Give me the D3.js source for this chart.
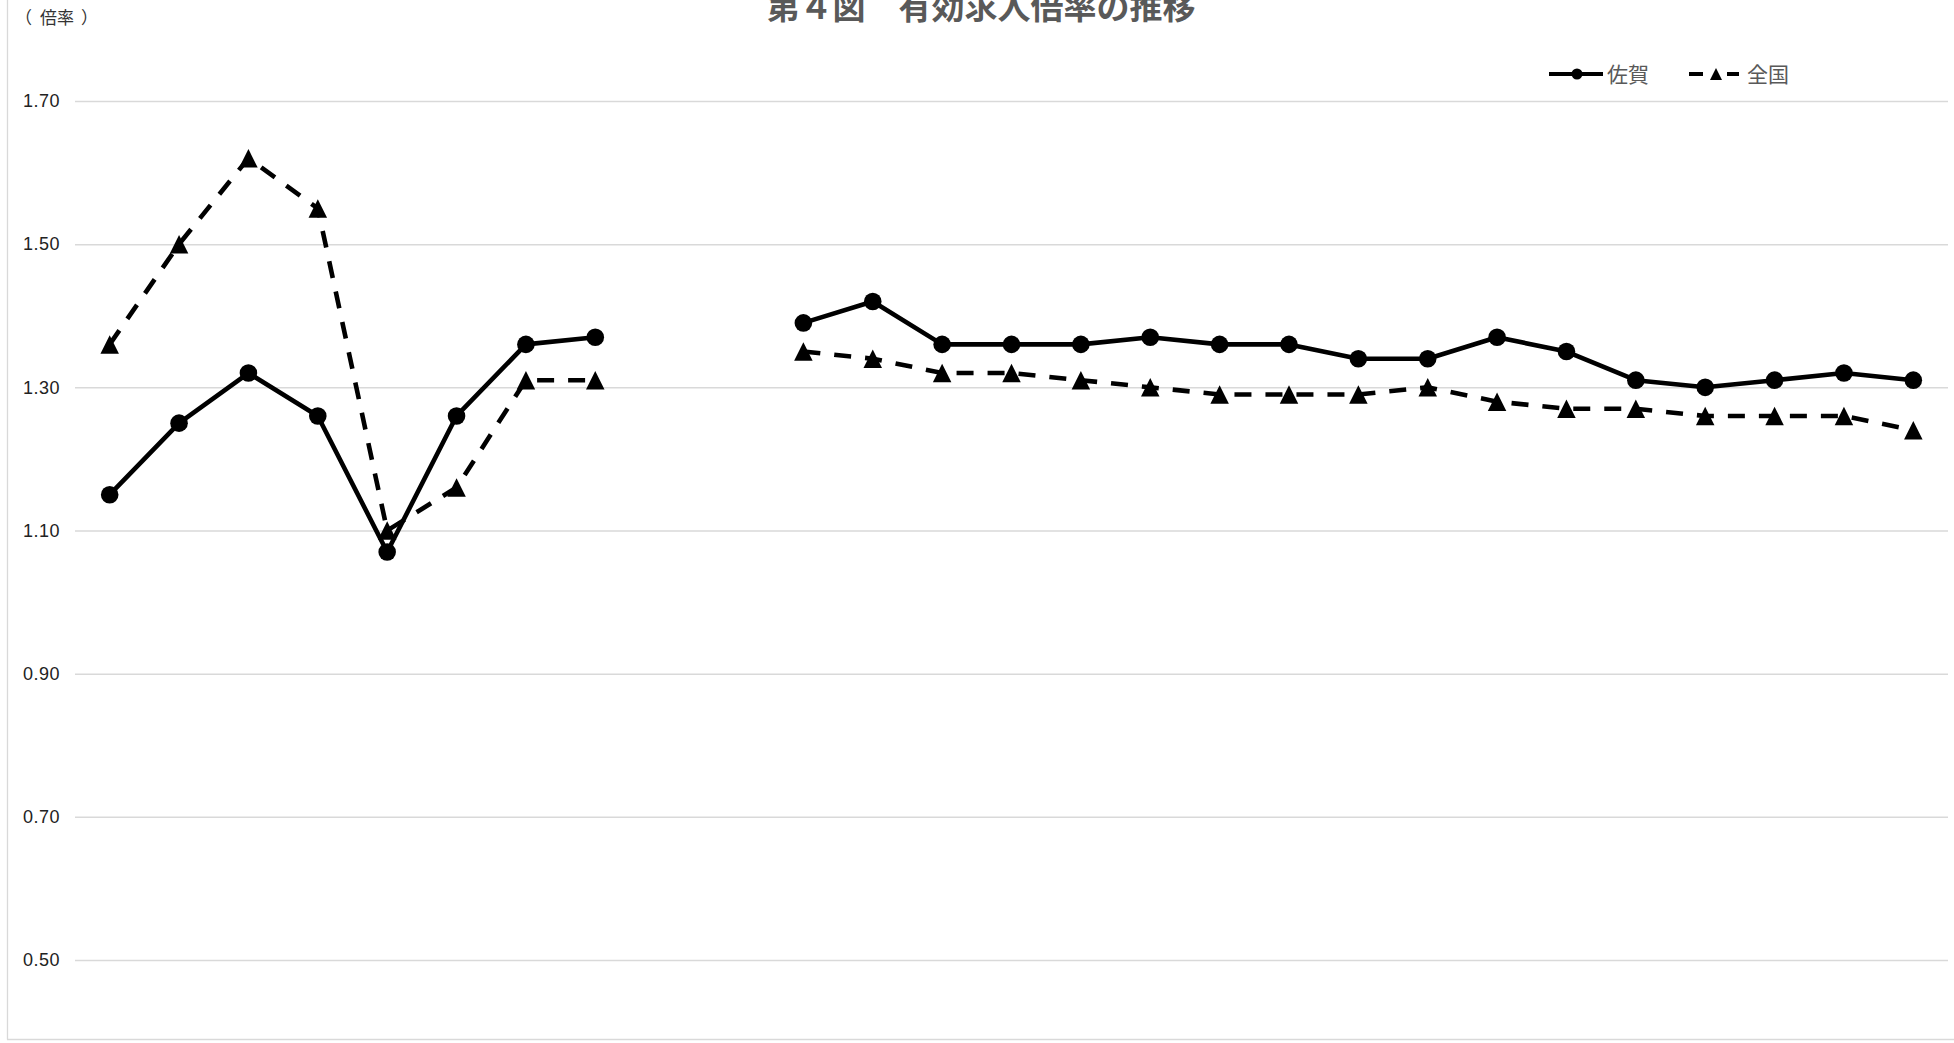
<!DOCTYPE html>
<html>
<head>
<meta charset="utf-8">
<script src="https://cdn.jsdelivr.net/npm/d3@7"></script>
<style>
  html, body { margin: 0; padding: 0; background: #fff; overflow: hidden; }
  svg { display: block; }
</style>
</head>
<body>
<svg id="chart" width="1954" height="1043"></svg>
<script>
// ---- data ----
const title = "第４図　有効求人倍率の推移";
const yUnitParts = ["（", "倍率", "）"];
const seriesNames = ["佐賀", "全国"];
const categories = ["p1","p2","p3","p4","p5","p6","p7","p8","gap1","gap2",
  "m1","m2","m3","m4","m5","m6","m7","m8","m9","m10","m11","m12","m13","m14","m15","m16","m17"];
const sagaValues = [1.15,1.25,1.32,1.26,1.07,1.26,1.36,1.37,null,null,
  1.39,1.42,1.36,1.36,1.36,1.37,1.36,1.36,1.34,1.34,1.37,1.35,1.31,1.30,1.31,1.32,1.31];
const zenkokuValues = [1.36,1.50,1.62,1.55,1.10,1.16,1.31,1.31,null,null,
  1.35,1.34,1.32,1.32,1.31,1.30,1.29,1.29,1.29,1.30,1.28,1.27,1.27,1.26,1.26,1.26,1.24];
const yTicks = [0.50,0.70,0.90,1.10,1.30,1.50,1.70];

// ---- layout ----
const svg = d3.select("#chart");
const plot = { left: 75, right: 1948, top: 101, bottom: 960 };
const cjk = "'Noto Sans CJK JP', 'Noto Sans', sans-serif";
const latin = "'Liberation Sans', Arial, sans-serif";

const x = d3.scaleBand().domain(categories).range([plot.left, plot.right]).padding(0);
const y = d3.scaleLinear().domain([0.5, 1.7]).range([plot.bottom, plot.top]);

// outer frame lines (chart area border)
svg.append("line").attr("x1", 7.5).attr("x2", 7.5).attr("y1", 0).attr("y2", 1039.5)
  .attr("stroke", "#d9d9d9").attr("stroke-width", 1.3);
svg.append("line").attr("x1", 7).attr("x2", 1954).attr("y1", 1039.5).attr("y2", 1039.5)
  .attr("stroke", "#d9d9d9").attr("stroke-width", 1.3);

// gridlines + y axis
const yAxis = d3.axisLeft(y).tickValues(yTicks).tickFormat(d3.format(".2f"))
  .tickSize(-(plot.right - plot.left)).tickPadding(15);
const gy = svg.append("g").attr("transform", `translate(${plot.left},0)`).call(yAxis);
gy.select(".domain").remove();
gy.selectAll(".tick line").attr("stroke", "#d9d9d9").attr("stroke-width", 1.5);
gy.selectAll(".tick text").attr("font-family", latin).attr("font-size", 18)
  .attr("fill", "#222").attr("letter-spacing", 0.5);

// title
svg.append("text").attr("x", 981).attr("y", 19).attr("text-anchor", "middle")
  .attr("font-family", cjk).attr("font-weight", "bold").attr("font-size", 33)
  .attr("fill", "#595959").text(title);

// y unit
const yu = svg.append("text").attr("x", 15).attr("y", 24)
  .attr("font-family", cjk).attr("font-size", 17).attr("fill", "#333");
yu.append("tspan").text(yUnitParts[0]);
yu.append("tspan").attr("dx", 8).text(yUnitParts[1]);
yu.append("tspan").attr("dx", 7).text(yUnitParts[2]);

// custom triangle symbol
const tri = {
  draw(ctx, size) {
    const w = Math.sqrt(size);
    const h = w;
    ctx.moveTo(0, -h / 2);
    ctx.lineTo(w / 2, h / 2);
    ctx.lineTo(-w / 2, h / 2);
    ctx.closePath();
  }
};

const line = d3.line()
  .defined(d => d.v != null)
  .x(d => x(d.c) + x.bandwidth() / 2)
  .y(d => y(d.v));

const sagaData = categories.map((c, i) => ({ c, v: sagaValues[i] }));
const zenData = categories.map((c, i) => ({ c, v: zenkokuValues[i] }));

// 佐賀 series
svg.append("path").datum(sagaData).attr("d", line)
  .attr("fill", "none").attr("stroke", "#000").attr("stroke-width", 4.6)
  .attr("stroke-linejoin", "round");
svg.append("g").selectAll("path").data(sagaData.filter(d => d.v != null)).join("path")
  .attr("transform", d => `translate(${x(d.c) + x.bandwidth() / 2},${y(d.v)})`)
  .attr("d", d3.symbol(d3.symbolCircle, Math.PI * 8.8 * 8.8)())
  .attr("fill", "#000");

// 全国 series
svg.append("path").datum(zenData).attr("d", line)
  .attr("fill", "none").attr("stroke", "#000").attr("stroke-width", 4.6)
  .attr("stroke-dasharray", "17,14");
svg.append("g").selectAll("path").data(zenData.filter(d => d.v != null)).join("path")
  .attr("transform", d => `translate(${x(d.c) + x.bandwidth() / 2},${y(d.v)})`)
  .attr("d", d3.symbol(tri, 18.5 * 18.5)())
  .attr("fill", "#000");

// legend
const lg = svg.append("g");
lg.append("line").attr("x1", 1549).attr("x2", 1603).attr("y1", 74).attr("y2", 74)
  .attr("stroke", "#000").attr("stroke-width", 4);
lg.append("path").attr("transform", "translate(1577,74)")
  .attr("d", d3.symbol(d3.symbolCircle, Math.PI * 5.5 * 5.5)()).attr("fill", "#000");
lg.append("text").attr("x", 1607).attr("y", 82).attr("font-family", cjk)
  .attr("font-size", 21).attr("fill", "#595959").text(seriesNames[0]);

lg.append("line").attr("x1", 1689).attr("x2", 1703).attr("y1", 74).attr("y2", 74)
  .attr("stroke", "#000").attr("stroke-width", 4);
lg.append("line").attr("x1", 1727).attr("x2", 1739).attr("y1", 74).attr("y2", 74)
  .attr("stroke", "#000").attr("stroke-width", 4);
lg.append("path").attr("transform", "translate(1716,74)")
  .attr("d", d3.symbol(tri, 12 * 12)()).attr("fill", "#000");
lg.append("text").attr("x", 1747).attr("y", 82).attr("font-family", cjk)
  .attr("font-size", 21).attr("fill", "#595959").text(seriesNames[1]);
</script>
</body>
</html>
